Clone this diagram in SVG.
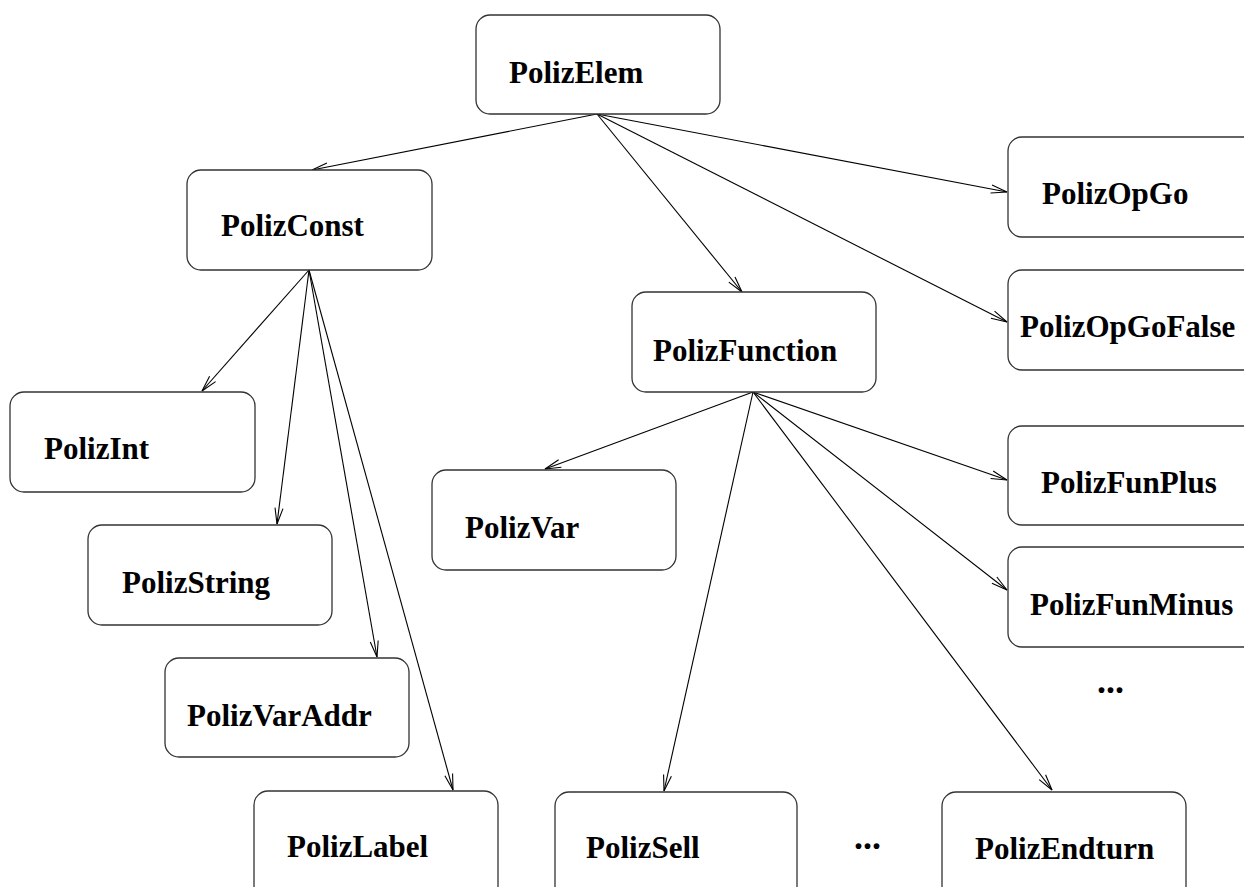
<svg xmlns="http://www.w3.org/2000/svg" width="1244" height="887" viewBox="0 0 1244 887">
<style>
.box{fill:#fff;stroke:#333;stroke-width:1.3}
.lbl{font-family:"Liberation Serif",serif;font-weight:bold;font-size:31px;fill:#000}
.dots{font-family:"Liberation Serif",serif;font-weight:bold;font-size:36px;fill:#000}
.edge{stroke:#000;stroke-width:1.1;fill:none;marker-end:url(#arr)}
</style>
<defs>
<marker id="arr" markerUnits="userSpaceOnUse" markerWidth="20" markerHeight="12" refX="17" refY="5" orient="auto" viewBox="0 0 20 10">
<path d="M1,1 L17,5 L1,9" fill="none" stroke="#000" stroke-width="1.1"/>
</marker>
</defs>
<rect width="1244" height="887" fill="#fff"/>
<g id="connectors">
<line class="edge" x1="597" y1="114" x2="312" y2="170"/>
<line class="edge" x1="597" y1="114" x2="1007" y2="192"/>
<line class="edge" x1="597" y1="114" x2="742" y2="292"/>
<line class="edge" x1="597" y1="114" x2="1007" y2="322"/>
<line class="edge" x1="309" y1="270" x2="202" y2="391"/>
<line class="edge" x1="309" y1="270" x2="277" y2="524"/>
<line class="edge" x1="309" y1="270" x2="377" y2="657"/>
<line class="edge" x1="309" y1="270" x2="453" y2="790"/>
<line class="edge" x1="753" y1="392" x2="545" y2="469"/>
<line class="edge" x1="753" y1="392" x2="1007" y2="480"/>
<line class="edge" x1="753" y1="392" x2="1007" y2="590"/>
<line class="edge" x1="753" y1="392" x2="664" y2="791"/>
<line class="edge" x1="753" y1="392" x2="1052" y2="790"/>
</g>
<g id="PolizElem"><rect class="box" x="476" y="15" width="244" height="99" rx="14"/><text class="lbl" x="509" y="83">PolizElem</text></g>
<g id="PolizConst"><rect class="box" x="187" y="170" width="245" height="100" rx="14"/><text class="lbl" x="221" y="236">PolizConst</text></g>
<g id="PolizOpGo"><rect class="box" x="1008" y="137" width="250" height="100" rx="14"/><text class="lbl" x="1042" y="204">PolizOpGo</text></g>
<g id="PolizOpGoFalse"><rect class="box" x="1008" y="270" width="250" height="100" rx="14"/><text class="lbl" x="1020" y="337">PolizOpGoFalse</text></g>
<g id="PolizFunction"><rect class="box" x="632" y="292" width="244" height="100" rx="14"/><text class="lbl" x="653" y="361">PolizFunction</text></g>
<g id="PolizInt"><rect class="box" x="10" y="392" width="245" height="100" rx="14"/><text class="lbl" x="44" y="459">PolizInt</text></g>
<g id="PolizVar"><rect class="box" x="432" y="470" width="244" height="100" rx="14"/><text class="lbl" x="465" y="538">PolizVar</text></g>
<g id="PolizString"><rect class="box" x="88" y="525" width="244" height="100" rx="14"/><text class="lbl" x="122" y="593">PolizString</text></g>
<g id="PolizVarAddr"><rect class="box" x="165" y="658" width="244" height="99" rx="14"/><text class="lbl" x="187" y="726">PolizVarAddr</text></g>
<g id="PolizFunPlus"><rect class="box" x="1008" y="426" width="250" height="99" rx="14"/><text class="lbl" x="1041" y="493">PolizFunPlus</text></g>
<g id="PolizFunMinus"><rect class="box" x="1008" y="547" width="250" height="100" rx="14"/><text class="lbl" x="1030" y="615">PolizFunMinus</text></g>
<g id="PolizLabel"><rect class="box" x="254" y="791" width="244" height="110" rx="14"/><text class="lbl" x="287" y="857">PolizLabel</text></g>
<g id="PolizSell"><rect class="box" x="555" y="792" width="242" height="110" rx="14"/><text class="lbl" x="586" y="858">PolizSell</text></g>
<g id="PolizEndturn"><rect class="box" x="942" y="792" width="244" height="110" rx="14"/><text class="lbl" x="975" y="859">PolizEndturn</text></g>
<text class="dots" x="1097" y="693">...</text>
<text class="dots" x="854" y="849">...</text>
</svg>
